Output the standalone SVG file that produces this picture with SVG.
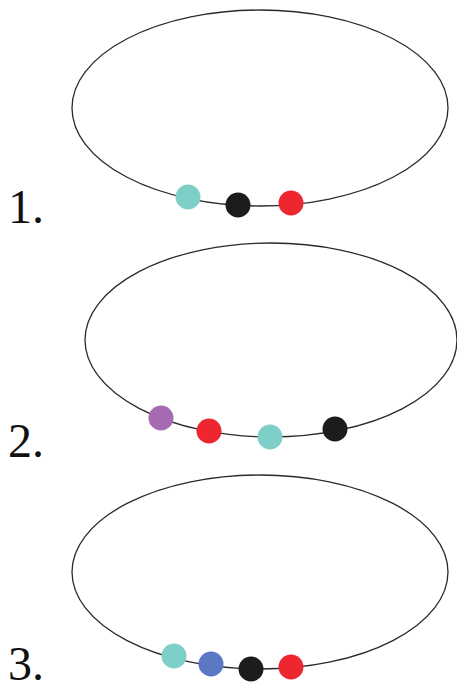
<svg xmlns="http://www.w3.org/2000/svg" width="457" height="693" viewBox="0 0 457 693">
<style>
.ring{fill:none;stroke:#2a2a2a;stroke-width:1.3}
.lbl{font-family:"Liberation Serif",serif;font-size:48px;fill:#111}
.c{fill:#7ecfc8}.k{fill:#1c1c1c}.r{fill:#ee2630}.p{fill:#a66ab2}.b{fill:#5c78c2}
</style>
<rect width="457" height="693" fill="#fff"/>
<g id="panel1">
<ellipse class="ring" cx="260" cy="108" rx="188" ry="98"/>
<circle class="c" cx="188" cy="197" r="12.5"/>
<circle class="k" cx="238" cy="205" r="12.5"/>
<circle class="r" cx="291" cy="203" r="12.5"/>
<text class="lbl" x="8" y="223">1.</text>
</g>
<g id="panel2">
<ellipse class="ring" cx="271" cy="340" rx="186" ry="97"/>
<circle class="p" cx="161" cy="418" r="12.5"/>
<circle class="r" cx="209" cy="431" r="12.5"/>
<circle class="c" cx="270" cy="437" r="12.5"/>
<circle class="k" cx="335" cy="429" r="12.5"/>
<text class="lbl" x="8" y="457">2.</text>
</g>
<g id="panel3">
<ellipse class="ring" cx="260" cy="572" rx="188" ry="97"/>
<circle class="c" cx="174" cy="656" r="12.5"/>
<circle class="b" cx="211" cy="664" r="12.5"/>
<circle class="k" cx="251" cy="669" r="12.5"/>
<circle class="r" cx="291" cy="667" r="12.5"/>
<text class="lbl" x="8" y="680">3.</text>
</g>
</svg>
